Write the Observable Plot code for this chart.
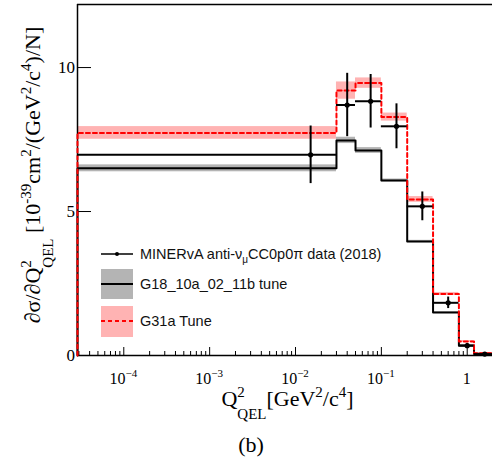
<!DOCTYPE html>
<html><head><meta charset="utf-8">
<script src="https://cdn.jsdelivr.net/npm/d3@7"></script>
<script src="https://cdn.jsdelivr.net/npm/@observablehq/plot@0.6"></script>
<style>
body{margin:0;background:#fff;}
#wrap{position:relative;width:492px;height:468px;overflow:hidden;}
</style></head><body><div id="wrap"></div>
<script>
// ---- data ----
const binEdges = [0, 0.03, 0.05, 0.1, 0.2, 0.4, 0.8, 1.2, 2.0];
const dataX   = [0.015, 0.04, 0.075, 0.15, 0.3, 0.6, 1.0, 1.6];
const dataY   = [6.97, 8.70, 8.83, 7.96, 5.18, 1.83, 0.34, 0.05];
const dataErr = [1.00, 1.10, 0.93, 0.78, 0.50, 0.20, 0.08, 0.03];
const g18Y    = [6.50, 7.47, 7.12, 6.08, 3.96, 1.49, 0.35, 0.06];
const g18Err  = [0.12, 0.11, 0.10, 0.05, 0.04, 0.03, 0.02, 0.01];
const g31Y    = [7.73, 9.20, 9.46, 8.28, 5.42, 2.14, 0.49, 0.08];
const g31Err  = [0.22, 0.30, 0.18, 0.14, 0.10, 0.05, 0.03, 0.01];
const xTicks = [1e-4, 1e-3, 1e-2, 1e-1, 1];
const xTickBase = ["10", "10", "10", "10", "1"];
const xTickExp  = ["\u22124", "\u22123", "\u22122", "\u22121", ""];
const yTicks = [0, 5, 10];
const yTickLabels = ["0", "5", "10"];
const legendLabels = ["MINERvA anti-\u03bd", "G18_10a_02_11b tune", "G31a Tune"];

// ---- layout ----
const W = 492, H = 468;
const mL = 77, mR = 0, mT = 4, mB = 113;
const plotW = W - mL - mR, plotH = H - mT - mB;
const xMin = 2.89e-5, xMax = 1.97, yMax = 12.19;

const bins = g18Y.map((v, i) => ({
  x1: Math.max(binEdges[i], xMin), x2: binEdges[i + 1],
  g18: v, g18e: g18Err[i], g31: g31Y[i], g31e: g31Err[i],
  dx: dataX[i], dy: dataY[i], de: dataErr[i]
}));
function stepPts(vals) {
  const p = [{x: xMin, y: 0}];
  vals.forEach((v, i) => p.push({x: Math.max(binEdges[i], xMin), y: v}));
  p.push({x: binEdges[binEdges.length - 1], y: vals[vals.length - 1]});
  return p;
}
const minorTicks = [];
for (let k = -5; k <= 0; k++) for (let m = 2; m <= 9; m++) {
  const v = m * Math.pow(10, k);
  if (v > xMin && v < xMax) minorTicks.push(v);
}

const plot = Plot.plot({
  width: W, height: H,
  marginLeft: mL, marginRight: mR, marginTop: mT, marginBottom: mB,
  x: {type: "log", domain: [xMin, xMax], axis: null},
  y: {domain: [0, yMax], axis: null},
  marks: [
    Plot.rect(bins, {x1: "x1", x2: "x2", y1: d => d.g31 - d.g31e, y2: d => d.g31 + d.g31e, fill: "#ffb3b3"}),
    Plot.rect(bins, {x1: "x1", x2: "x2", y1: d => d.g18 - d.g18e, y2: d => d.g18 + d.g18e, fill: "#b4b4b4"}),
    // frame (left, bottom, top)
    Plot.ruleX([xMin], {stroke: "black", strokeWidth: 1.5}),
    Plot.ruleY([0], {stroke: "black", strokeWidth: 1.5}),
    Plot.ruleY([yMax], {stroke: "black", strokeWidth: 1.5}),
    // ticks
    Plot.ruleX(xTicks, {stroke: "black", strokeWidth: 1, insetTop: plotH - 8}),
    Plot.ruleX(minorTicks, {stroke: "black", strokeWidth: 1, insetTop: plotH - 4}),
    Plot.ruleY(yTicks, {stroke: "black", strokeWidth: 1, insetRight: plotW - 14}),
    // histograms
    Plot.line(stepPts(g18Y), {x: "x", y: "y", curve: "step-after", stroke: "black", strokeWidth: 2}),
    Plot.line(stepPts(g31Y), {x: "x", y: "y", curve: "step-after", stroke: "#ff0000", strokeWidth: 2, strokeDasharray: "4,3"}),
    // data
    Plot.ruleY(bins, {x1: "x1", x2: "x2", y: "dy", stroke: "black", strokeWidth: 2}),
    Plot.ruleX(bins, {x: "dx", y1: d => d.dy - d.de, y2: d => d.dy + d.de, stroke: "black", strokeWidth: 2}),
    Plot.dot(bins, {x: "dx", y: "dy", r: 2.6, fill: "black", stroke: "none"})
  ]
});
document.getElementById("wrap").appendChild(plot);

const svg = d3.select(plot);
const X = plot.scale("x"), Y = plot.scale("y");
const serif = "'Liberation Serif', 'DejaVu Serif', serif";
const sans = "'Liberation Sans', Arial, sans-serif";

// x tick labels
xTicks.forEach((v, i) => {
  const t = svg.append("text").attr("x", X.apply(v)).attr("y", 384)
    .attr("text-anchor", "middle").attr("font-family", serif).attr("font-size", 16).attr("fill", "black");
  t.append("tspan").text(xTickBase[i]);
  if (xTickExp[i]) t.append("tspan").attr("dy", -7).attr("font-size", 11).text(xTickExp[i]);
});
// y tick labels
yTicks.forEach((v, i) => {
  svg.append("text").attr("x", 75).attr("y", Y.apply(v)).attr("dy", "0.35em")
    .attr("text-anchor", "end").attr("font-family", serif).attr("font-size", 17).attr("fill", "black")
    .text(yTickLabels[i]);
});

// x title
{
  const t = svg.append("text").attr("x", 287.5).attr("y", 406).attr("text-anchor", "middle")
    .attr("font-family", serif).attr("font-size", 22).attr("fill", "black");
  t.append("tspan").text("Q");
  t.append("tspan").attr("dy", -9).attr("font-size", 15).text("2");
  t.append("tspan").attr("dx", -7.5).attr("dy", 22).attr("font-size", 15).text("QEL");
  t.append("tspan").attr("dy", -13).text("[GeV");
  t.append("tspan").attr("dy", -9).attr("font-size", 15).text("2");
  t.append("tspan").attr("dy", 9).text("/c");
  t.append("tspan").attr("dy", -9).attr("font-size", 15).text("4");
  t.append("tspan").attr("dy", 9).text("]");
}
// y title
{
  const t = svg.append("text").attr("transform", "translate(40,175) rotate(-90)").attr("text-anchor", "middle")
    .attr("font-family", serif).attr("font-size", 22).attr("fill", "black");
  t.append("tspan").text("\u2202\u03c3/\u2202Q");
  t.append("tspan").attr("dy", -9).attr("font-size", 15).text("2");
  t.append("tspan").attr("dx", -7.5).attr("dy", 22).attr("font-size", 15).text("QEL");
  t.append("tspan").attr("dy", -13).text(" [10");
  t.append("tspan").attr("dy", -9).attr("font-size", 15).text("-39");
  t.append("tspan").attr("dy", 9).text("cm");
  t.append("tspan").attr("dy", -9).attr("font-size", 15).text("2");
  t.append("tspan").attr("dy", 9).text("/(GeV");
  t.append("tspan").attr("dy", -9).attr("font-size", 15).text("2");
  t.append("tspan").attr("dy", 9).text("/c");
  t.append("tspan").attr("dy", -9).attr("font-size", 15).text("4");
  t.append("tspan").attr("dy", 9).text(")/N]");
}
// caption
svg.append("text").attr("x", 251).attr("y", 452).attr("text-anchor", "middle")
  .attr("font-family", serif).attr("font-size", 22).attr("fill", "black").text("(b)");

// legend
{
  const g = svg.append("g").attr("text-anchor", "start");
  const lx = 101, lw = 32, tx = 140;
  // row 1: data
  g.append("line").attr("x1", lx).attr("x2", lx + lw).attr("y1", 254).attr("y2", 254).attr("stroke", "black").attr("stroke-width", 1.5);
  g.append("circle").attr("cx", lx + lw / 2).attr("cy", 254).attr("r", 2).attr("fill", "black");
  const t1 = g.append("text").attr("x", tx).attr("y", 259).attr("text-anchor", "start").attr("font-family", sans).attr("font-size", 14.5).attr("fill", "#111");
  t1.append("tspan").text(legendLabels[0]);
  t1.append("tspan").attr("dy", 4).attr("font-size", 10).text("\u03bc");
  t1.append("tspan").attr("dy", -4).text("CC0p0\u03c0 data (2018)");
  // row 2: G18
  g.append("rect").attr("x", lx).attr("y", 269).attr("width", lw).attr("height", 30).attr("fill", "#b4b4b4");
  g.append("line").attr("x1", lx).attr("x2", lx + lw).attr("y1", 284).attr("y2", 284).attr("stroke", "black").attr("stroke-width", 2);
  g.append("text").attr("x", tx).attr("y", 289).attr("text-anchor", "start").attr("font-family", sans).attr("font-size", 14.5).attr("fill", "#111").text(legendLabels[1]);
  // row 3: G31a
  g.append("rect").attr("x", lx).attr("y", 306).attr("width", lw).attr("height", 31).attr("fill", "#ffb3b3");
  g.append("line").attr("x1", lx).attr("x2", lx + lw).attr("y1", 321).attr("y2", 321).attr("stroke", "#ff0000").attr("stroke-width", 2).attr("stroke-dasharray", "4,3");
  g.append("text").attr("x", tx).attr("y", 326).attr("text-anchor", "start").attr("font-family", sans).attr("font-size", 14.5).attr("fill", "#111").text(legendLabels[2]);
}
</script>
</body></html>
